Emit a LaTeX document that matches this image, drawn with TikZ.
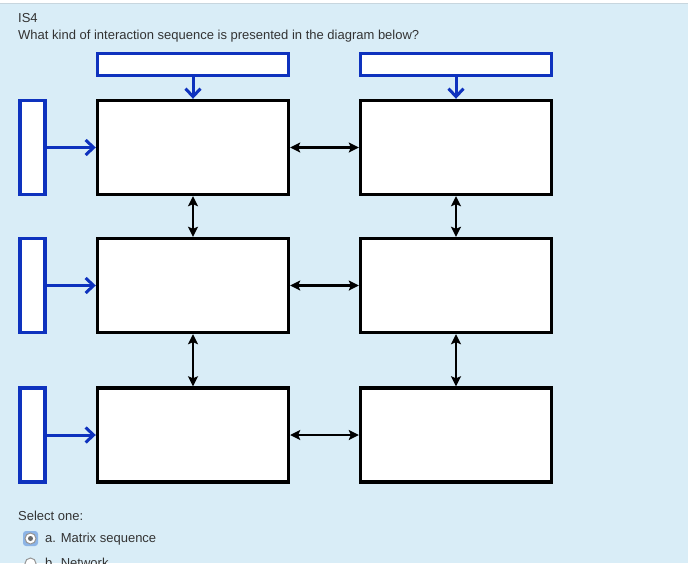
\documentclass[tikz,border=0pt]{standalone}
\usepackage{fontspec}
\setmainfont{Liberation Sans}
\usetikzlibrary{arrows.meta}
\definecolor{infobg}{RGB}{217, 237, 247}
\definecolor{infoline}{RGB}{200, 214, 222}
\definecolor{boxblue}{RGB}{14, 50, 190}
\definecolor{textgray}{RGB}{51, 51, 51}
\definecolor{radiogray}{RGB}{150, 150, 150}
\definecolor{radiofocus}{RGB}{140, 180, 230}

\begin{document}
\begin{tikzpicture}[x=1pt, y=-1pt,
    mainbox/.style={draw=black, fill=white, line width=3.4pt, minimum width=191pt, minimum height=94pt, inner sep=0pt},
    topbox/.style={draw=boxblue, fill=white, line width=3.4pt, minimum width=191pt, minimum height=22pt, inner sep=0pt},
    sidebox/.style={draw=boxblue, fill=white, line width=3.4pt, minimum width=25pt, minimum height=94pt, inner sep=0pt},
    feed/.style={draw=boxblue, line width=3pt, -{Straight Barb[length=8pt, width=15pt, line width=3pt]}},
    link/.style={draw=black, line width=2.8pt, {Stealth[length=10pt, width=10pt, inset=2pt]}-{Stealth[length=10pt, width=10pt, inset=2pt]}},
    qtext/.style={anchor=base west, inner sep=0pt, text=textgray, font=\fontsize{13}{15}\selectfont}]
            \useasboundingbox                                          (0, 0) rectangle (688, 563);
            \clip                                                      (0, 0) rectangle (688, 563);
            \fill[white]                                               (0, 0) rectangle (688, 3);
            \fill[infobg]                                              (0, 3) rectangle (688, 563);
            \draw[infoline, line width=1pt]                            (0, 3) -- (688, 3);
        \node[qtext] (code)     at ( 18,  22) {IS4};
        \node[qtext] (question) at ( 18,  39) {What kind of interaction sequence is presented in the diagram below?};
        \node[topbox]  (top1) at (193.0,  64.5) {};
        \node[topbox]  (top2) at (456.0,  64.5) {};
        \node[sidebox] (side1) at ( 32.5, 147.5) {};
        \node[sidebox] (side2) at ( 32.5, 285.5) {};
        \node[sidebox] (side3) at ( 32.5, 435.0) {};
        \node[mainbox] (b11) at (193.0, 147.5) {};
        \node[mainbox] (b12) at (456.0, 147.5) {};
        \node[mainbox] (b21) at (193.0, 285.5) {};
        \node[mainbox] (b22) at (456.0, 285.5) {};
        \node[mainbox] (b31) at (193.0, 435.0) {};
        \node[mainbox] (b32) at (456.0, 435.0) {};
        \draw[feed] (top1.south) -- (b11.north);
        \draw[feed] (top2.south) -- (b12.north);
        \draw[feed] (side1.east) -- (b11.west);
        \draw[feed] (side2.east) -- (b21.west);
        \draw[feed] (side3.east) -- (b31.west);
        \draw[link] (b11.east) -- (b12.west);
        \draw[link] (b21.east) -- (b22.west);
        \draw[link] (b31.east) -- (b32.west);
        \draw[link] (b11.south) -- (b21.north);
        \draw[link] (b21.south) -- (b31.north);
        \draw[link] (b12.south) -- (b22.north);
        \draw[link] (b22.south) -- (b32.north);
        \node[qtext] (select) at ( 18, 520) {Select one:};
            \fill[radiofocus, rounded corners=3pt]                    (23, 531) rectangle (38, 546);
            \filldraw[draw=radiogray, fill=white, line width=1pt]     (30.5, 538.5) circle (5.5);
            \fill[radiogray!70!black]                                  (30.5, 538.5) circle (2.5);
        \node[qtext] (opta) at ( 45, 542) {a. Matrix sequence};
            \filldraw[draw=radiogray, fill=white, line width=1pt]     (30.5, 563.5) circle (5.5);
        \node[qtext] (optb) at ( 45, 567) {b. Network};
        \end{tikzpicture}
\end{document}
